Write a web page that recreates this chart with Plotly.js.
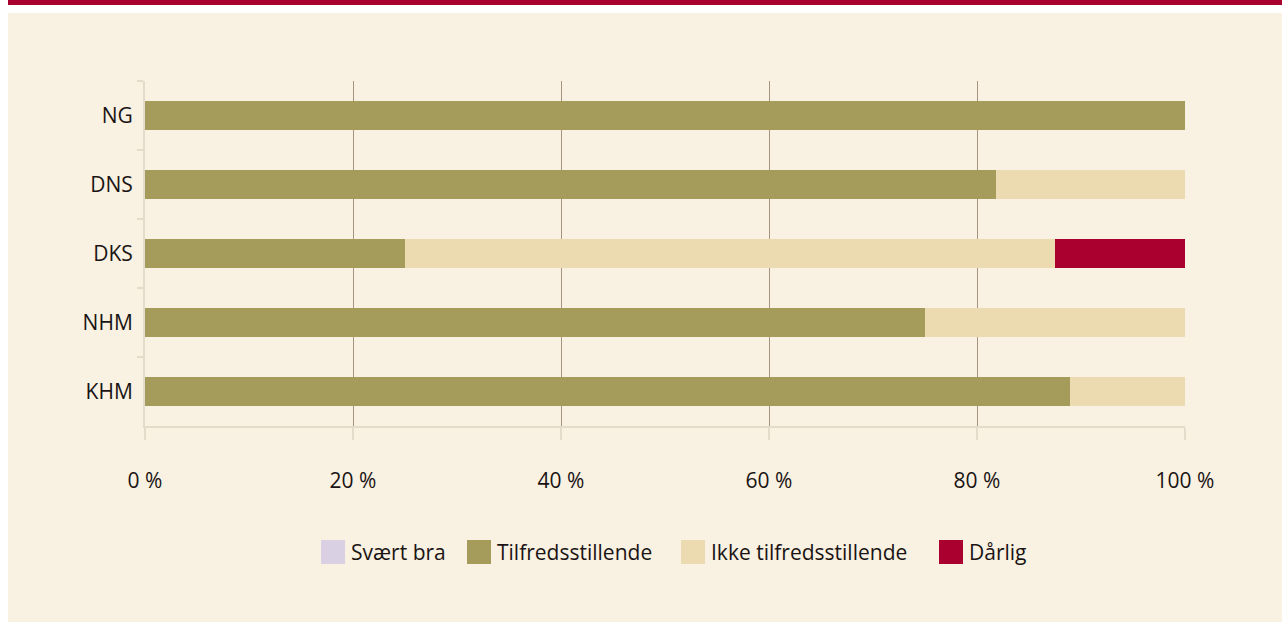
<!DOCTYPE html>
<html>
<head>
<meta charset="utf-8">
<script src="https://cdn.plot.ly/plotly-3.0.1.min.js"></script>
<style>
  html, body { margin: 0; padding: 0; background: #ffffff; width: 1282px; height: 622px; overflow: hidden; }
  #topbar { position: absolute; left: 8px; top: 0; width: 1274px; height: 5px; background: #a8002f; }
  #chart { position: absolute; left: 8px; top: 13px; width: 1274px; height: 609px; }
</style>
</head>
<body>
<div id="topbar"></div>
<div id="chart"></div>
<script>
// ---- data ----
const categories = ['NG', 'DNS', 'DKS', 'NHM', 'KHM'];
const seriesNames = ['Svært bra', 'Tilfredsstillende', 'Ikke tilfredsstillende', 'Dårlig'];
const svaertBra = [0, 0, 0, 0, 0];
const tilfredsstillende = [100, 81.8, 25, 75, 88.9];
const ikkeTilfredsstillende = [0, 18.2, 62.5, 25, 11.1];
const darlig = [0, 0, 12.5, 0, 0];
const xTickValues = [0, 20, 40, 60, 80, 100];

// ---- styles ----
const colors = ['#d9d1e3', '#a59b5a', '#ecdbb0', '#a90030'];
const seriesValues = [svaertBra, tilfredsstillende, ikkeTilfredsstillende, darlig];
const FONT = 'Open Sans, Noto Sans, sans-serif';
const TEXT = '#1a1414';
const AXIS = '#e4dcca';
const GRID = '#a8937e';
const BG = '#f9f1e1';

const traces = seriesNames.map((name, i) => ({
  type: 'bar',
  orientation: 'h',
  name: name,
  y: categories,
  x: seriesValues[i],
  marker: { color: colors[i], line: { width: 0 } },
  showlegend: false,
  hoverinfo: 'skip'
}));

// manual legend (large square swatches)
const plotW = 1040, plotH = 345;
const swatchLeftPx = [176, 322, 536, 794];   // offsets from plot-area left
const swatchSize = 24;
const swatchTopPx = 114;                      // below plot bottom
const shapes = [];
const annotations = [];
seriesNames.forEach((name, i) => {
  const x0 = swatchLeftPx[i] / plotW;
  const x1 = (swatchLeftPx[i] + swatchSize) / plotW;
  const y0 = -swatchTopPx / plotH;
  const y1 = -(swatchTopPx + swatchSize) / plotH;
  shapes.push({
    type: 'rect', xref: 'paper', yref: 'paper',
    x0: x0, x1: x1, y0: y1, y1: y0,
    fillcolor: colors[i], line: { width: 0 }
  });
  annotations.push({
    xref: 'paper', yref: 'paper',
    x: (swatchLeftPx[i] + swatchSize + 4) / plotW,
    y: -(swatchTopPx + swatchSize / 2) / plotH,
    xanchor: 'left', yanchor: 'middle',
    text: name, showarrow: false,
    font: { family: FONT, size: 21, color: TEXT }
  });
});

const layout = {
  width: 1274,
  height: 609,
  margin: { l: 137, r: 97, t: 68, b: 196, pad: 0 },
  paper_bgcolor: BG,
  plot_bgcolor: BG,
  barmode: 'stack',
  bargap: 0.594,
  showlegend: false,
  font: { family: FONT, size: 21, color: TEXT },
  xaxis: {
    range: [0, 100],
    tickvals: xTickValues,
    ticktext: xTickValues.map(v => v + ' %'),
    showgrid: true,
    gridcolor: GRID,
    gridwidth: 1,
    zeroline: false,
    showline: true,
    linecolor: AXIS,
    linewidth: 2,
    ticks: 'outside',
    ticklen: 12,
    tickwidth: 2,
    tickcolor: AXIS,
    ticklabelstandoff: 23,
    tickfont: { family: FONT, size: 21, color: TEXT },
    fixedrange: true
  },
  yaxis: {
    type: 'category',
    categoryorder: 'array',
    categoryarray: categories,
    range: [4.5, -0.5],
    showgrid: false,
    zeroline: false,
    showline: true,
    linecolor: AXIS,
    linewidth: 2,
    ticks: 'outside',
    tickson: 'boundaries',
    ticklen: 6,
    tickwidth: 2,
    tickcolor: AXIS,
    ticklabelstandoff: 6,
    tickfont: { family: FONT, size: 21, color: TEXT },
    fixedrange: true
  },
  shapes: shapes,
  annotations: annotations
};

Plotly.newPlot('chart', traces, layout, { displayModeBar: false, staticPlot: true });
</script>
</body>
</html>
